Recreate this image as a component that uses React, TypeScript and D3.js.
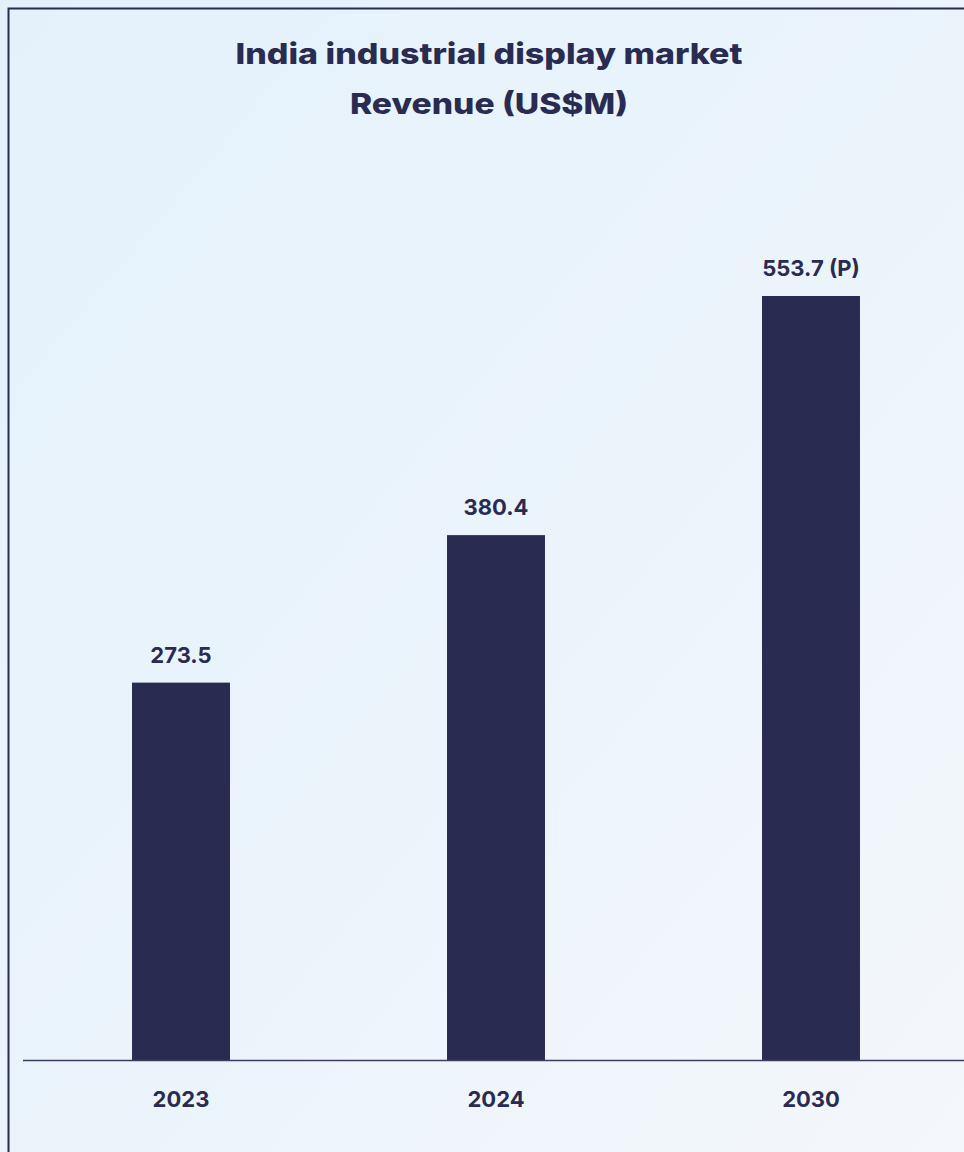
import React from "react";
import * as d3 from "d3";

const categories = ["2023", "2024", "2030"];
const values = [273.5, 380.4, 553.7];
const valueLabels = ["273.5", "380.4", "553.7 (P)"];
const titleLines = ["India industrial display market", "Revenue (US$M)"];

const W = 964;
const H = 1152;
const NAVY = "#2a2b50";
const FONT = "Inter, 'Noto Sans', sans-serif";

export default function App() {
  const x = d3
    .scaleBand<string>()
    .domain(categories)
    .range([23.5, 968.5])
    .paddingInner(0.689)
    .paddingOuter(0.3445);
  const y = d3.scaleLinear().domain([0, 553.7]).range([1060, 296]);
  const titleWidths = [507, 278];
  const titleY = [64, 114];

  return (
    <div style={{ position: "fixed", left: 0, top: 0, width: W, height: H, overflow: "hidden" }}>
      <svg width={W} height={H} style={{ display: "block" }}>
        <defs>
          <linearGradient id="bg" x1="0" y1="0" x2="1" y2="1">
            <stop offset="0" stopColor="#e4f1fb" />
            <stop offset="0.5" stopColor="#ebf4fb" />
            <stop offset="1" stopColor="#f4f7fc" />
          </linearGradient>
        </defs>
        <rect x={0} y={0} width={W} height={H} fill="url(#bg)" />
        <rect x={8.5} y={8.5} width={W + 20} height={H + 20} fill="none" stroke={NAVY} strokeWidth={2} />
        <g fontFamily={FONT} fontWeight={800} fill={NAVY} textAnchor="middle">
          {titleLines.map((t, i) => (
            <text
              key={t}
              x={489}
              y={titleY[i]}
              fontSize={29}
              textLength={titleWidths[i]}
              lengthAdjust="spacingAndGlyphs"
            >
              {t}
            </text>
          ))}
        </g>
        {categories.map((c, i) => (
          <rect
            key={c}
            x={x(c)}
            y={y(values[i])}
            width={x.bandwidth()}
            height={y(0) - y(values[i])}
            fill={NAVY}
          />
        ))}
        <line x1={23} x2={W} y1={y(0) + 0.5} y2={y(0) + 0.5} stroke="#3b3c60" strokeWidth={1.5} />
        <g fontFamily={FONT} fontWeight={700} fill={NAVY} textAnchor="middle" fontSize={22}>
          {categories.map((c, i) => (
            <text key={"v" + c} x={(x(c) as number) + x.bandwidth() / 2} y={y(values[i]) - 20}>
              {valueLabels[i]}
            </text>
          ))}
          {categories.map((c) => (
            <text key={"t" + c} x={(x(c) as number) + x.bandwidth() / 2} y={1107}>
              {c}
            </text>
          ))}
        </g>
      </svg>
    </div>
  );
}
